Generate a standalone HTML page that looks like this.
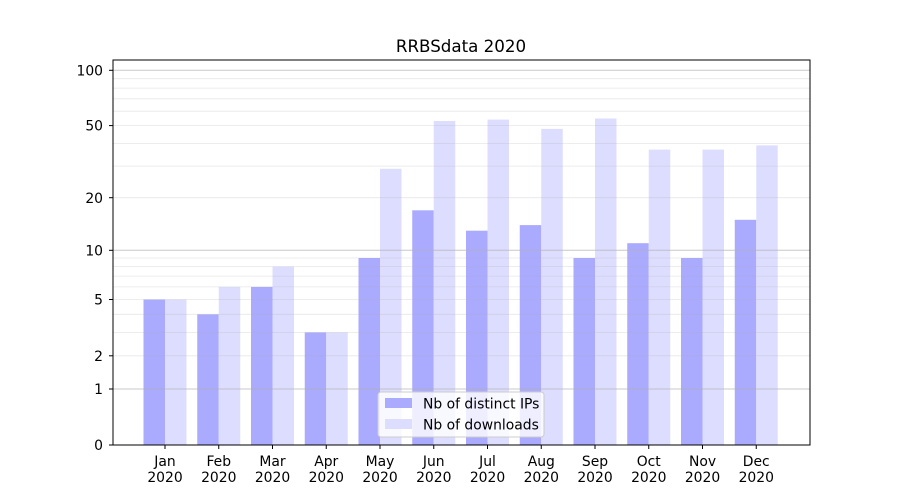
<!DOCTYPE html>
<html><head><meta charset="utf-8"><style>
html,body{margin:0;padding:0;background:#fff}
svg{display:block;font-family:"DejaVu Sans","Liberation Sans",sans-serif}
</style></head><body>
<svg width="900" height="500" viewBox="0 0 900 500" xmlns="http://www.w3.org/2000/svg">
<rect width="900" height="500" fill="#fff"/>
<text x="461" y="52" font-size="16.7" text-anchor="middle">RRBSdata 2020</text>
<g id="bars"></g>
<g stroke="#b0b0b0" stroke-width="0.8" stroke-opacity="0.3">
<line x1="113" x2="810" y1="355.8" y2="355.8"/><line x1="113" x2="810" y1="332.4" y2="332.4"/>
<line x1="113" x2="810" y1="314.3" y2="314.3"/><line x1="113" x2="810" y1="299.5" y2="299.5"/>
<line x1="113" x2="810" y1="286.9" y2="286.9"/><line x1="113" x2="810" y1="276.1" y2="276.1"/>
<line x1="113" x2="810" y1="266.6" y2="266.6"/><line x1="113" x2="810" y1="258" y2="258"/>
<line x1="113" x2="810" y1="197.7" y2="197.7"/><line x1="113" x2="810" y1="166.1" y2="166.1"/>
<line x1="113" x2="810" y1="143.4" y2="143.4"/><line x1="113" x2="810" y1="125.6" y2="125.6"/>
<line x1="113" x2="810" y1="111.2" y2="111.2"/><line x1="113" x2="810" y1="98.8" y2="98.8"/>
<line x1="113" x2="810" y1="88.1" y2="88.1"/><line x1="113" x2="810" y1="78.7" y2="78.7"/>
</g>
<g stroke="#b0b0b0" stroke-width="1" stroke-opacity="0.7">
<line x1="113" x2="810" y1="389" y2="389"/><line x1="113" x2="810" y1="250.3" y2="250.3"/><line x1="113" x2="810" y1="70.3" y2="70.3"/>
</g>
<rect x="113" y="60" width="697" height="385" fill="none" stroke="#000" stroke-width="1"/>
<g font-size="13.9" text-anchor="end" fill="#000">
<text x="103" y="450">0</text><text x="103" y="394">1</text><text x="103" y="361">2</text>
<text x="103" y="304.5">5</text><text x="103" y="255.5">10</text><text x="103" y="203">20</text>
<text x="103" y="130.5">50</text><text x="103" y="75.5">100</text>
</g>
<g stroke="#000" stroke-width="1">
<line x1="109" x2="113" y1="445" y2="445"/><line x1="109" x2="113" y1="389" y2="389"/><line x1="109" x2="113" y1="355.8" y2="355.8"/>
<line x1="109" x2="113" y1="299.5" y2="299.5"/><line x1="109" x2="113" y1="250.3" y2="250.3"/><line x1="109" x2="113" y1="197.7" y2="197.7"/>
<line x1="109" x2="113" y1="125.6" y2="125.6"/><line x1="109" x2="113" y1="70.3" y2="70.3"/>
</g>
<g id="xt" font-size="13.9" text-anchor="middle"></g>
<g>
<rect x="378" y="392" width="166" height="45" rx="3" fill="#fff" fill-opacity="0.8" stroke="#ccc"/>
<rect x="385" y="398" width="27" height="10" fill="#aaaaff"/>
<text x="423" y="408.5" font-size="13.9">Nb of distinct IPs</text>
<rect x="385" y="419" width="27" height="10" fill="#ddddff"/>
<text x="423" y="429.5" font-size="13.9">Nb of downloads</text>
</g>
<script>
var ip=[299.5,314.3,286.9,332.4,258,210.3,230.7,225.1,258,243.2,258,219.8];
var dl=[299.5,286.9,266.6,332.4,168.8,121,119.6,128.9,118.5,149.6,149.6,145.4];
var m=["Jan","Feb","Mar","Apr","May","Jun","Jul","Aug","Sep","Oct","Nov","Dec"];
var ns="http://www.w3.org/2000/svg",b=document.getElementById("bars"),xt=document.getElementById("xt");
for(var i=0;i<12;i++){var c=165+53.75*i;
function r(x,y,f){var e=document.createElementNS(ns,"rect");e.setAttribute("x",x);e.setAttribute("y",y);e.setAttribute("width",21.5);e.setAttribute("height",445-y);e.setAttribute("fill",f);b.appendChild(e);}
r(c-21.5,ip[i],"#aaaaff");r(c,dl[i],"#ddddff");
var l=document.createElementNS(ns,"line");l.setAttribute("x1",c);l.setAttribute("x2",c);l.setAttribute("y1",445);l.setAttribute("y2",449);l.setAttribute("stroke","#000");xt.appendChild(l);
var t=document.createElementNS(ns,"text");t.setAttribute("x",c);t.setAttribute("y",466);t.textContent=m[i];xt.appendChild(t);
var t2=document.createElementNS(ns,"text");t2.setAttribute("x",c);t2.setAttribute("y",482);t2.textContent="2020";xt.appendChild(t2);}
</script>
</svg>
</body></html>
